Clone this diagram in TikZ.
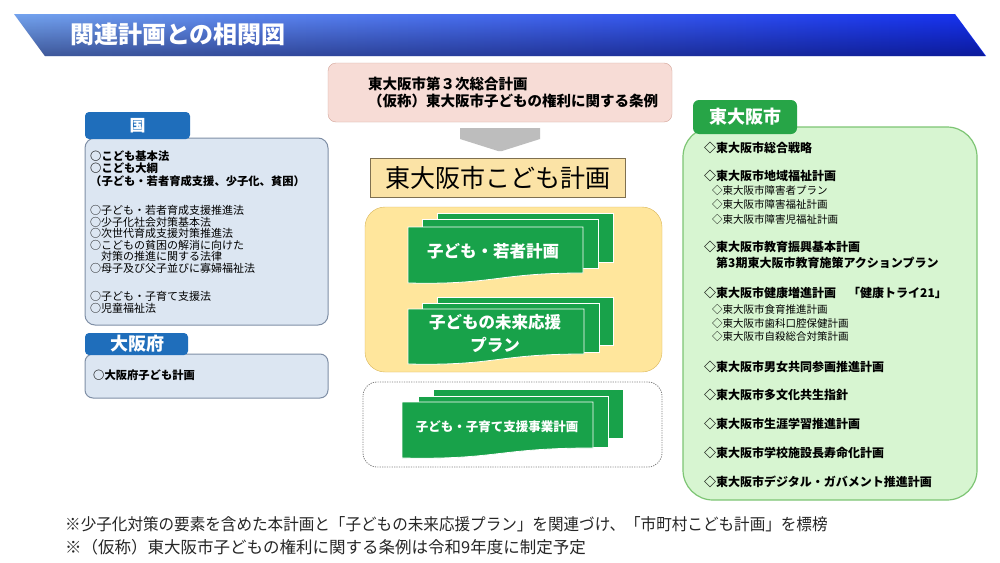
\documentclass[tikz,border=0pt]{standalone}
\usepackage{fontspec}
\setmainfont{Noto Sans CJK JP}
\usetikzlibrary{fadings}
\definecolor{bannerL}{HTML}{74A3EE}
\definecolor{bannerR}{HTML}{1530F0}
\definecolor{pinkF}{HTML}{F7DCD6}
\definecolor{pinkD}{HTML}{D4A59A}
\definecolor{titleF}{HTML}{FBE3A6}
\definecolor{titleD}{HTML}{7F7050}
\definecolor{yelF}{HTML}{FFE69C}
\definecolor{yelD}{HTML}{D9B65A}
\definecolor{docG}{HTML}{18A24A}
\definecolor{blueTab}{HTML}{1F6EBB}
\definecolor{blueF}{HTML}{DCE6F2}
\definecolor{blueD}{HTML}{7F8FA6}
\definecolor{greenTab}{HTML}{27A547}
\definecolor{greenF}{HTML}{D7F5D1}
\definecolor{greenD}{HTML}{7DC574}
\definecolor{arrowG}{HTML}{BDBDBD}
\definecolor{noteC}{HTML}{262626}
\newcommand\docrect[4]{\filldraw[pagest] (#1,#2) rectangle (#3,#4);}
\newcommand\docwave[5]{\filldraw[pagest] (#1,#2) -- (#3,#2) -- (#3,#5) .. controls ({(#1+#3)/2},#5) and ({(#1+#3)/2},{#4+2}) .. (#1,#4) -- cycle;}
\begin{document}
\begin{tikzpicture}[x=1pt,y=-1pt,
  pagest/.style={fill=docG, draw=white, line width=0.8pt},
  lt/.style={anchor=west, inner sep=0pt, font=\fontsize{11}{13}\selectfont},
  ltb/.style={anchor=west, inner sep=0pt, font=\fontsize{11.3}{13}\selectfont\bfseries},
  rb/.style={anchor=west, inner sep=0pt, font=\fontsize{12}{14}\selectfont\bfseries},
  rs/.style={anchor=west, inner sep=0pt, font=\fontsize{10.5}{12}\selectfont},
  tabtxt/.style={text=white, inner sep=0pt, font=\fontsize{17}{19}\selectfont\bfseries},
  doctxt/.style={text=white, inner sep=0pt, align=center, font=\fontsize{16.5}{23}\selectfont\bfseries},
  note/.style={anchor=west, inner sep=0pt, text=noteC, font=\fontsize{16.5}{19}\selectfont}]
\useasboundingbox (0,0) rectangle (1000,562);
\fill[white] (0,0) rectangle (1000,562);
% banner
\shade[left color=bannerL, right color=bannerR] (14,14) -- (955,14) -- (986,56) -- (45,56) -- cycle;
\fill[black!80!blue, path fading=north, fill opacity=0.45] (14,14) -- (955,14) -- (986,56) -- (45,56) -- cycle;
\node[anchor=west, inner sep=0pt, text=white, font=\fontsize{24}{26}\selectfont\bfseries] (title) at (70,34) {関連計画との相関図};
% top pink box
\draw[draw=pinkD, fill=pinkF, rounded corners=8] (328,63) rectangle (672,122);
\node[anchor=west, inner sep=0pt, align=left, font=\fontsize{14.5}{17}\selectfont\bfseries] (upper) at (368,92.5) {東大阪市第３次総合計画\\（仮称）東大阪市子どもの権利に関する条例};
% gray arrow
\fill[arrowG] (460,128) -- (540,128) -- (540,139) -- (502,151) -- (498,151) -- (460,139) -- cycle;
% plan title
\node[draw=titleD, fill=titleF, line width=1pt, minimum width=255pt, minimum height=39pt, inner sep=0pt, font=\fontsize{25}{28}\selectfont] (plan) at (497.5,177.5) {東大阪市こども計画};
% yellow box with stacks
\draw[draw=yelD, fill=yelF, rounded corners=20] (365,207) rectangle (662,372);
\docrect{437}{213}{613}{262}
\docrect{422}{219}{598}{268}
\docwave{408}{227}{583}{283}{273}
\node[doctxt] (d1) at (493,251) {子ども・若者計画};
\docrect{437}{297}{613}{345}
\docrect{422}{303}{599}{352}
\docwave{408}{309}{584}{364}{354}
\node[doctxt] (d2) at (495,333.5) {子どもの未来応援\\プラン};
% dashed box
\draw[draw=gray, line width=0.8pt, dash pattern=on 1.2pt off 1.2pt, rounded corners=14] (363,382) rectangle (662,467);
\docrect{433}{389}{623}{438}
\docrect{418}{396}{608}{447}
\docwave{402}{402}{593}{458}{448}
\node[text=white, inner sep=0pt, font=\fontsize{12.5}{14}\selectfont\bfseries] (d3) at (497,427) {子ども・子育て支援事業計画};
% left: kuni
\draw[draw=blueD, fill=blueF, line width=1pt, rounded corners=10] (85,138) rectangle (328,325);
\fill[blueTab, rounded corners=4] (85,112) rectangle (190,139);
\node[tabtxt, font=\fontsize{16}{18}\selectfont\bfseries] (kuni) at (137.5,125.5) {国};
\node[ltb] (k1) at (90,156) {○こども基本法};
\node[ltb] (k2) at (90,168) {○こども大綱};
\node[ltb] (k3) at (90,181) {（子ども・若者育成支援、少子化、貧困）};
\node[lt] (k4) at (90,210) {○子ども・若者育成支援推進法};
\node[lt] (k5) at (90,222) {○少子化社会対策基本法};
\node[lt] (k6) at (90,233) {○次世代育成支援対策推進法};
\node[lt] (k7) at (90,245) {○こどもの貧困の解消に向けた};
\node[lt] (k8) at (90,256) {　対策の推進に関する法律};
\node[lt] (k9) at (90,268) {○母子及び父子並びに寡婦福祉法};
\node[lt] (k10) at (90,296) {○子ども・子育て支援法};
\node[lt] (k11) at (90,308) {○児童福祉法};
% left: osaka-fu
\draw[draw=blueD, fill=blueF, line width=1pt, rounded corners=8] (85,354) rectangle (328,398);
\fill[blueTab, rounded corners=4] (85,333) rectangle (188,355);
\node[tabtxt, font=\fontsize{18}{20}\selectfont\bfseries] (fu) at (137,344) {大阪府};
\node[ltb] (f1) at (93,375) {○大阪府子ども計画};
% right: city
\draw[draw=greenD, fill=greenF, line width=1.2pt, rounded corners=30] (683,127) rectangle (977,500);
\fill[greenTab, rounded corners=6] (693,100) rectangle (797,134);
\node[tabtxt, font=\fontsize{18}{20}\selectfont\bfseries] (city) at (745,117) {東大阪市};
\node[rb] (c1) at (704,148) {◇東大阪市総合戦略};
\node[rb] (c2) at (704,176) {◇東大阪市地域福祉計画};
\node[rs] (c3) at (712,191) {◇東大阪市障害者プラン};
\node[rs] (c4) at (712,205) {◇東大阪市障害福祉計画};
\node[rs] (c5) at (712,220) {◇東大阪市障害児福祉計画};
\node[rb] (c6) at (704,247) {◇東大阪市教育振興基本計画};
\node[rb] (c7) at (716,263) {第3期東大阪市教育施策アクションプラン};
\node[rb] (c8) at (704,293) {◇東大阪市健康増進計画　「健康トライ21」};
\node[rs] (c9) at (712,310) {◇東大阪市食育推進計画};
\node[rs] (c10) at (712,324) {◇東大阪市歯科口腔保健計画};
\node[rs] (c11) at (712,337) {◇東大阪市自殺総合対策計画};
\node[rb] (c12) at (704,367) {◇東大阪市男女共同参画推進計画};
\node[rb] (c13) at (704,395) {◇東大阪市多文化共生指針};
\node[rb] (c14) at (704,424) {◇東大阪市生涯学習推進計画};
\node[rb] (c15) at (704,453) {◇東大阪市学校施設長寿命化計画};
\node[rb] (c16) at (704,482) {◇東大阪市デジタル・ガバメント推進計画};
% notes
\node[note] (n1) at (65,524) {\scalebox{0.944}[1]{※少子化対策の要素を含めた本計画と「子どもの未来応援プラン」を関連づけ、「市町村こども計画」を標榜}};
\node[note] (n2) at (65,547) {※（仮称）東大阪市子どもの権利に関する条例は令和9年度に制定予定};
\end{tikzpicture}
\end{document}
